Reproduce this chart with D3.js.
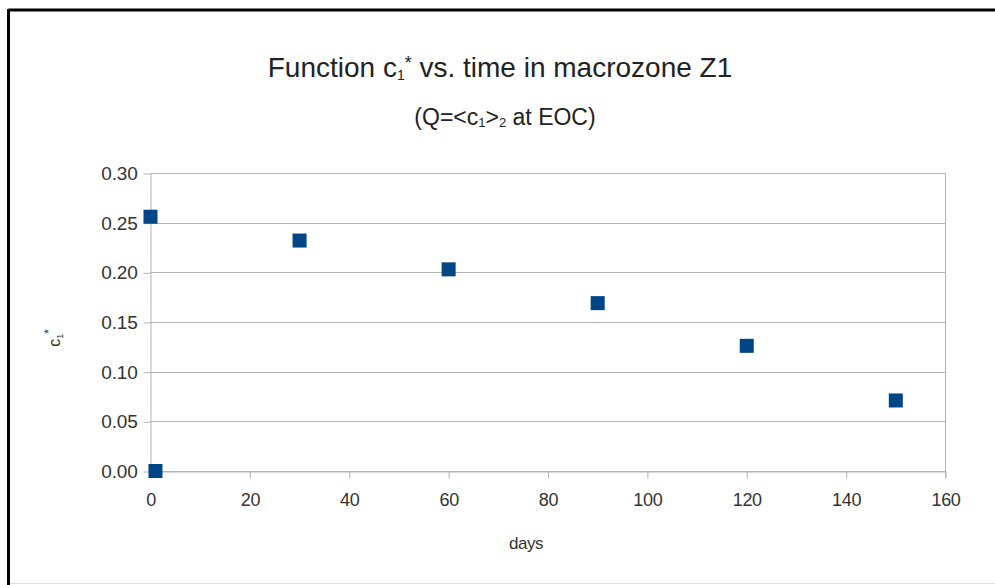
<!DOCTYPE html>
<html>
<head>
<meta charset="utf-8">
<script src="https://cdn.jsdelivr.net/npm/d3@7"></script>
<style>
  html, body { margin: 0; padding: 0; background: #fff; }
  svg { display: block; font-family: "Liberation Sans", Arial, sans-serif; }
</style>
</head>
<body>
<svg id="chart" width="995" height="585"></svg>
<script>
const days = [0, 1, 30, 60, 90, 120, 150];
const c1star = [0.256, 0.0, 0.232, 0.203, 0.169, 0.126, 0.071];
const xTicks = [0, 20, 40, 60, 80, 100, 120, 140, 160];
const yTicks = [0, 0.05, 0.10, 0.15, 0.20, 0.25, 0.30];

const svg = d3.select("#chart");
const FONT = "Liberation Sans, Arial, sans-serif";

// frame
svg.append("rect").attr("x", 0).attr("y", 0).attr("width", 995).attr("height", 585).attr("fill", "#fff");
svg.append("line").attr("x1", 8.5).attr("x2", 995).attr("y1", 10).attr("y2", 10).attr("stroke", "#000").attr("stroke-width", 3);
svg.append("line").attr("x1", 8.5).attr("x2", 8.5).attr("y1", 9).attr("y2", 585).attr("stroke", "#000").attr("stroke-width", 3);
svg.append("line").attr("x1", 10).attr("x2", 995).attr("y1", 583.5).attr("y2", 583.5).attr("stroke", "#ddd").attr("stroke-width", 1);

const x = d3.scaleLinear().domain([0, 160]).range([150, 945]);
const y = d3.scaleLinear().domain([0, 0.30]).range([471, 173]);

// grid
svg.append("g").selectAll("line").data(yTicks).join("line")
  .attr("x1", 150).attr("x2", 945)
  .attr("y1", d => Math.round(y(d)) + 0.5).attr("y2", d => Math.round(y(d)) + 0.5)
  .attr("stroke", "#b3b3b3").attr("stroke-width", 1);
svg.append("line").attr("x1", 945.5).attr("x2", 945.5).attr("y1", y(0.30)).attr("y2", y(0) + 7)
  .attr("stroke", "#b3b3b3");

// axes
const xAxis = d3.axisBottom(x).tickValues(xTicks).tickFormat(d3.format("d")).tickSize(7).tickSizeOuter(0).tickPadding(15);
const gx = svg.append("g").attr("transform", `translate(0.5,${Math.round(y(0)) + 0.5})`).call(xAxis);
gx.select(".domain").attr("stroke", "#b3b3b3");
gx.selectAll(".tick line").attr("stroke", "#b3b3b3");
gx.selectAll(".tick text").attr("fill", "#333").attr("font-size", 18).attr("font-family", FONT).attr("letter-spacing", -0.3);

const yAxis = d3.axisLeft(y).tickValues(yTicks).tickFormat(d3.format(".2f")).tickSize(7).tickSizeOuter(0).tickPadding(6);
const gy = svg.append("g").attr("transform", `translate(150.5,0.5)`).call(yAxis);
gy.select(".domain").attr("stroke", "#b3b3b3");
gy.selectAll(".tick line").attr("stroke", "#b3b3b3");
gy.selectAll(".tick text").attr("fill", "#333").attr("font-size", 19).attr("font-family", FONT).attr("letter-spacing", -0.2);

// points
const s = 14;
svg.append("g").selectAll("rect").data(days.map((d, i) => [d, c1star[i]])).join("rect")
  .attr("x", d => x(d[0]) - s / 2 + 0.5)
  .attr("y", d => y(d[1]) - s / 2)
  .attr("width", s).attr("height", s)
  .attr("fill", "#004586");

// title
const t = svg.append("text").attr("x", 500).attr("y", 77).attr("text-anchor", "middle")
  .attr("font-size", 28).attr("fill", "#222");
t.append("tspan").text("Function c");
t.append("tspan").text("1").attr("font-size", 14).attr("dy", 3);
t.append("tspan").text("*").attr("font-size", 18).attr("dy", -11);
t.append("tspan").text(" vs. time in macrozone Z1").attr("dy", 8);

const st = svg.append("text").attr("x", 505).attr("y", 125).attr("text-anchor", "middle")
  .attr("font-size", 23).attr("fill", "#222");
st.append("tspan").text("(Q=<c");
st.append("tspan").text("1").attr("font-size", 13).attr("dy", 2);
st.append("tspan").text(">").attr("dy", -2);
st.append("tspan").text("2").attr("font-size", 13).attr("dy", 2);
st.append("tspan").text(" at EOC)").attr("dy", -2);

// axis titles
svg.append("text").attr("x", 526).attr("y", 549).attr("text-anchor", "middle")
  .attr("font-size", 17).attr("fill", "#333").attr("letter-spacing", -0.5).text("days");

const yl = svg.append("text").attr("transform", "translate(60,338) rotate(-90)").attr("text-anchor", "middle")
  .attr("font-size", 16).attr("fill", "#333");
yl.append("tspan").text("c");
yl.append("tspan").text("1").attr("font-size", 9).attr("dy", 3);
yl.append("tspan").text("*").attr("font-size", 12).attr("dy", -10);
</script>
</body>
</html>
